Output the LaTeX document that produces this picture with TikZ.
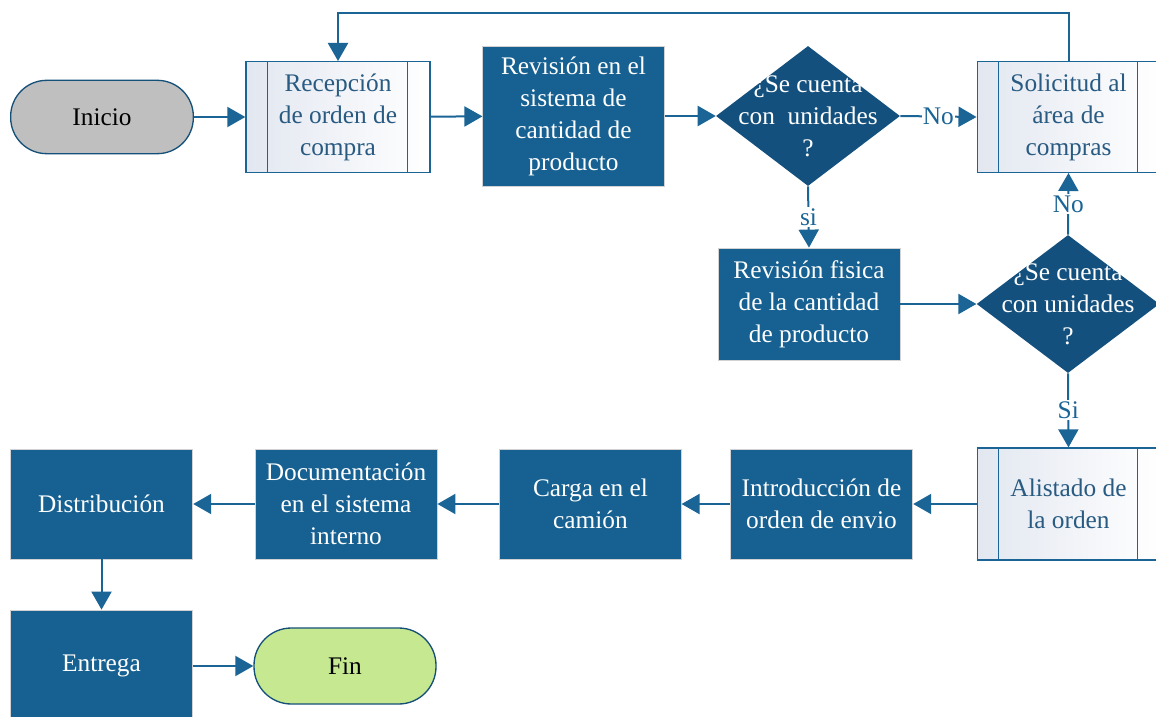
\documentclass[tikz,border=0pt]{standalone}
\usepackage{fontspec}
\setmainfont{Liberation Serif}
\usetikzlibrary{arrows.meta,shapes.geometric}
\definecolor{lineblue}{RGB}{26,100,150}
\definecolor{boxblue}{RGB}{22,97,145}
\definecolor{decblue}{RGB}{20,80,125}
\definecolor{subtext}{RGB}{40,90,130}
\definecolor{startgray}{RGB}{191,191,191}
\definecolor{endgreen}{RGB}{198,232,145}
\definecolor{subleft}{RGB}{226,231,240}
\tikzset{
  txt/.style={font=\fontsize{19}{24}\selectfont, align=center},
  procbox/.style={txt, rectangle, fill=boxblue, draw=gray!35, line width=0.6pt, text=white, inner sep=0pt},
  subproc/.style={txt, rectangle, left color=subleft, right color=white, draw=lineblue, line width=1pt, text=subtext, inner sep=0pt,
    path picture={
      \draw[lineblue, line width=1pt] ([xshift=16pt]path picture bounding box.north west) -- ([xshift=16pt]path picture bounding box.south west);
      \draw[lineblue, line width=1pt] ([xshift=-17pt]path picture bounding box.north east) -- ([xshift=-17pt]path picture bounding box.south east);
    }},
  terminal/.style={txt, rectangle, draw=lineblue!80!black, line width=1pt, text=black, inner sep=0pt},
  decshape/.style={diamond, fill=decblue, draw=none, inner sep=0pt},
  dectext/.style={txt, text=white},
  arr/.style={draw=lineblue, line width=1.5pt, -{Triangle[length=13.5pt,width=15pt]}},
  lbl/.style={font=\fontsize{19}{24}\selectfont, text=lineblue, fill=white, inner sep=1pt}
}
\begin{document}
\begin{tikzpicture}[x=0.75pt,y=-0.75pt]
\clip (0,0) rectangle (1156,717);
\fill[white] (0,0) rectangle (1156,717);

\node[terminal, fill=startgray, rounded corners=27pt, minimum width=137pt, minimum height=55pt] (ini) at (102,117) {Inicio};
\node[subproc, minimum width=138pt, minimum height=83pt] (rec) at (338,117) {Recepción\\de orden de\\compra};
\node[procbox, minimum width=136pt, minimum height=105pt] (rev) at (573.5,116) {Revisión en el\\sistema de\\cantidad de\\producto};
\node[decshape, minimum width=138pt, minimum height=105pt] (d1) at (808,116) {};
\node[dectext] at (d1) {¿Se cuenta\\con\ \ unidades\\?};
\node[subproc, minimum width=137pt, minimum height=83pt] (sol) at (1068.5,117) {Solicitud al\\área de\\compras};

\node[procbox, minimum width=136.5pt, minimum height=84pt] (revf) at (809,304) {Revisión fisica\\de la cantidad\\de producto};
\node[decshape, minimum width=137pt, minimum height=103.5pt] (d2) at (1068,304) {};
\node[dectext] at (d2) {¿Se cuenta\\con unidades\\?};

\node[subproc, minimum width=137pt, minimum height=84pt] (ali) at (1068.5,504) {Alistado de\\la orden};
\node[procbox, minimum width=137pt, minimum height=82.5pt] (intro) at (821.5,504) {Introducción de\\orden de envio};
\node[procbox, minimum width=136pt, minimum height=82.5pt] (carga) at (590.5,504) {Carga en el\\camión};
\node[procbox, minimum width=136.5pt, minimum height=82.5pt] (doc) at (346,504) {Documentación\\en el sistema\\interno};
\node[procbox, minimum width=137pt, minimum height=82.5pt] (dist) at (101.5,504) {Distribución};
\node[procbox, minimum width=137pt, minimum height=84pt] (ent) at (101.5,666) {Entrega};
\node[terminal, fill=endgreen, rounded corners=28pt, minimum width=136.5pt, minimum height=57pt] (fin) at (345,666) {Fin};

\coordinate (top) at (700,13);

\draw[arr] (ini) -- (rec);
\draw[arr] (rec) -- (rev);
\draw[arr] (rev) -- (d1);
\draw[arr] (d1.east) -- node[lbl] {No} (sol.west);
\draw[arr] (sol.north) |- (top) -| (rec.north);
\draw[arr] (d1.south) -- node[lbl] {si} (revf.north);
\draw[arr] (revf) -- (d2.west);
\draw[arr] (d2.north) -- node[lbl] {No} (sol.south);
\draw[arr] (d2.south) -- node[lbl] {Si} (ali.north);
\draw[arr] (ali) -- (intro);
\draw[arr] (intro) -- (carga);
\draw[arr] (carga) -- (doc);
\draw[arr] (doc) -- (dist);
\draw[arr] (dist) -- (ent);
\draw[arr] (ent) -- (fin);
\end{tikzpicture}
\end{document}
